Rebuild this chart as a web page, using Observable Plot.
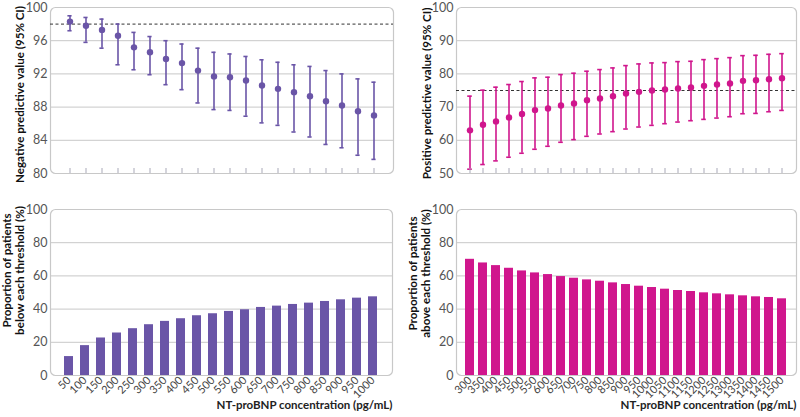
<!DOCTYPE html>
<html><head><meta charset="utf-8">
<script src="https://cdn.jsdelivr.net/npm/d3@7"></script>
<script src="https://cdn.jsdelivr.net/npm/@observablehq/plot@0.6"></script>
<style>
body{margin:0;background:#fff;}
#wrap{position:relative;width:800px;height:417px;font-family:Lato, "Open Sans", sans-serif;background:#fff;}
.p{position:absolute;}
</style></head><body><div id="wrap"></div>
<script>
// ---- data ----
const npvThresholds = [50,100,150,200,250,300,350,400,450,500,550,600,650,700,750,800,850,900,950,1000];
const npv    = [98.3,97.8,97.3,96.6,95.2,94.6,93.8,93.3,92.4,91.7,91.6,91.2,90.6,90.2,89.8,89.3,88.7,88.2,87.5,87.0];
const npvLow = [97.2,95.8,95.1,93.1,92.5,91.9,90.7,90.1,88.5,87.7,87.6,86.9,86.1,85.8,85.0,84.4,83.5,83.1,82.2,81.7];
const npvHigh= [99.0,98.8,98.6,98.0,97.0,96.5,96.0,95.6,95.1,94.6,94.4,94.1,93.7,93.4,93.1,92.9,92.4,92.0,91.4,91.0];
const npvReference = [98];

const ppvThresholds = [300,350,400,450,500,550,600,650,700,750,800,850,900,950,1000,1050,1100,1150,1200,1250,1300,1350,1400,1450,1500];
const ppv    = [63.0,64.7,65.7,66.9,67.9,69.1,69.6,70.5,71.1,72.1,72.6,73.3,74.1,74.6,75.0,75.3,75.6,75.9,76.4,76.8,77.1,77.9,78.1,78.4,78.7];
const ppvLow = [51.3,52.7,53.8,54.9,56.1,57.3,58.2,59.4,60.2,61.2,61.9,62.6,63.4,64.0,64.5,65.0,65.5,65.9,66.3,66.7,67.1,68.0,68.1,68.6,69.0];
const ppvHigh= [73.3,75.1,76.0,76.8,77.7,78.8,79.0,79.8,80.2,80.8,81.3,81.8,82.5,83.0,83.3,83.4,83.7,83.8,84.3,84.6,84.9,85.5,85.6,85.9,86.1];
const ppvReference = [75];

const belowPct = [11.4,18.0,22.6,25.6,28.2,30.6,32.6,34.2,36.0,37.2,38.6,39.6,41.0,41.8,42.8,43.6,44.6,45.6,46.6,47.4];
const abovePct = [70.0,67.8,66.2,64.6,63.0,61.8,60.8,59.6,58.6,57.6,56.8,55.8,54.8,53.8,53.0,52.0,51.2,50.6,49.8,49.2,48.6,48.0,47.4,47.0,46.2];

const npvTicks = [80,84,88,92,96,100];
const ppvTicks = [50,60,70,80,90,100];
const pctTicks = [0,20,40,60,80,100];

const yTitles = {
  npv: "Negative predictive value (95% CI)",
  ppv: "Positive predictive value (95% CI)",
  below: "Proportion of patients\nbelow each threshold (%)",
  above: "Proportion of patients\nabove each threshold (%)"
};
const xTitle = "NT-proBNP concentration (pg/mL)";

const purple = "#6a55a7";
const magenta = "#d0168d";

// ---- helpers ----
const wrap = document.getElementById("wrap");
function place(svg, left, top) {
  const d = document.createElement("div");
  d.className = "p"; d.style.left = left + "px"; d.style.top = top + "px";
  d.appendChild(svg); wrap.appendChild(d);
}
const frame = () => Plot.frame({stroke: "#c8c8c8", strokeWidth: 1.2, rx: 5});
const grid = (ticks) => Plot.ruleY(ticks.slice(1, -1), {stroke: "#c8c8c8", strokeWidth: 1});
const yAxis = (ticks) => Plot.axisY({ticks, tickSize: 0, tickPadding: 3, fontSize: 12.5, color: "#555", label: null});
const yTitle = (t, dx, dy) => Plot.text([t], {frameAnchor: "left", rotate: -90, dx, dy, fontSize: 11.6, fontWeight: "bold", fill: "#111", textAnchor: "middle", lineHeight: 1.15});

function ciPlot({thr, val, lo, hi, ref, ticks, color, title, ml, mr, pi, po, capInset, dx, dy}) {
  const data = thr.map((t, i) => ({t, v: val[i], lo: lo[i], hi: hi[i]}));
  return Plot.plot({
    width: 400, height: 195,
    marginLeft: ml, marginRight: mr, marginTop: 7, marginBottom: 22,
    style: {fontFamily: "Lato, sans-serif", background: "white", overflow: "visible"},
    x: {type: "band", domain: thr, paddingInner: pi, paddingOuter: po, label: null},
    y: {domain: [ticks[0], ticks[ticks.length - 1]], label: null},
    marks: [
      grid(ticks),
      frame(),
      Plot.ruleY(ref, {stroke: "#333", strokeWidth: 1, strokeDasharray: "3,2.5"}),
      Plot.ruleX(data, {x: "t", y1: "lo", y2: "hi", stroke: color, strokeWidth: 1.6}),
      Plot.tickY(data, {x: "t", y: "lo", stroke: color, strokeWidth: 1.6, insetLeft: capInset, insetRight: capInset}),
      Plot.tickY(data, {x: "t", y: "hi", stroke: color, strokeWidth: 1.6, insetLeft: capInset, insetRight: capInset}),
      Plot.dot(data, {x: "t", y: "v", r: 3.2, fill: color, stroke: "none"}),
      yAxis(ticks),
      Plot.axisX({tickSize: 5, dy: -5, tickFormat: () => "", label: null, stroke: "#a9a9b8"}),
      yTitle(title, dx, dy)
    ]
  });
}

function barPlot({thr, val, color, title, ml, mr, pi, po, dx, dy}) {
  const data = thr.map((t, i) => ({t, v: val[i]}));
  return Plot.plot({
    width: 400, height: 222,
    marginLeft: ml, marginRight: mr, marginTop: 14, marginBottom: 42,
    style: {fontFamily: "Lato, sans-serif", background: "white", overflow: "visible"},
    x: {type: "band", domain: thr, paddingInner: pi, paddingOuter: po, label: null},
    y: {domain: [0, 100], label: null},
    marks: [
      grid(pctTicks),
      frame(),
      Plot.barY(data, {x: "t", y: "v", fill: color}),
      yAxis(pctTicks),
      Plot.axisX({tickSize: 0, tickPadding: 3, tickRotate: -45, fontSize: 11, color: "#444", label: null, tickFormat: d => String(d)}),
      Plot.text([xTitle], {frameAnchor: "bottom-right", dy: 33, fontSize: 11.5, fontWeight: "bold", fill: "#222", textAnchor: "end"}),
      yTitle(title, dx, dy)
    ]
  });
}

place(ciPlot({thr: npvThresholds, val: npv, lo: npvLow, hi: npvHigh, ref: npvReference, ticks: npvTicks,
  color: purple, title: yTitles.npv, ml: 50, mr: 7, pi: 0.43, po: 0.32, capInset: 2.4, dx: -31, dy: 4}), 0, 0);
place(ciPlot({thr: ppvThresholds, val: ppv, lo: ppvLow, hi: ppvHigh, ref: ppvReference, ticks: ppvTicks,
  color: magenta, title: yTitles.ppv, ml: 56, mr: 4, pi: 0.29, po: 0.39, capInset: 2.2, dx: -30, dy: 3}), 400, 0);
place(barPlot({thr: npvThresholds, val: belowPct, color: purple, title: yTitles.below,
  ml: 50, mr: 8, pi: 0.43, po: 0.32, dx: -37, dy: -22}), 0, 195);
place(barPlot({thr: ppvThresholds, val: abovePct, color: magenta, title: yTitles.above,
  ml: 56, mr: 4, pi: 0.29, po: 0.39, dx: -37, dy: -19}), 400, 195);
</script></body></html>
